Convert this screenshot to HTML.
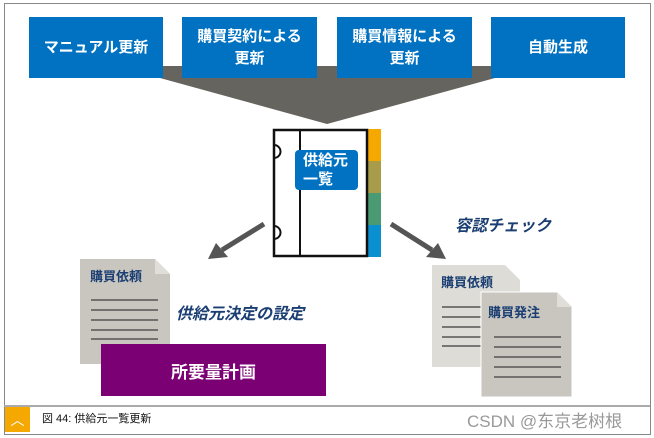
<!DOCTYPE html>
<html><head><meta charset="utf-8"><style>
body{margin:0;width:654px;height:438px;background:#fff;position:relative;overflow:hidden;font-family:"Liberation Sans","Noto Sans CJK JP",sans-serif}
.a{position:absolute}
.box{position:absolute;top:17px;height:61px;background:#0072c1;color:#fff;font-size:15px;display:flex;align-items:center;justify-content:center;text-align:center;line-height:22px;font-weight:bold}
</style></head><body>
<div class="a" style="left:4px;top:3px;width:645px;height:430px;border:1px solid #888"></div>
<svg class="a" style="left:0;top:0" width="654" height="438">
<polygon points="160,66 495,66 495,78 327,124 160,78" fill="#66645e"/>
<rect x="367" y="129" width="14" height="32" fill="#f5a800"/>
<rect x="367" y="161" width="14" height="32" fill="#a89c4a"/>
<rect x="367" y="193" width="14" height="32" fill="#4a9a74"/>
<rect x="367" y="225" width="14" height="32" fill="#0a8fd0"/>
<rect x="274" y="130" width="93" height="126" fill="#fff" stroke="#111" stroke-width="2.5"/>
<line x1="300" y1="130" x2="300" y2="256" stroke="#111" stroke-width="2"/>
<path d="M274,145 a6,6 0 0 1 0,13" fill="none" stroke="#111" stroke-width="2"/>
<path d="M274,226 a6,6 0 0 1 0,13" fill="none" stroke="#111" stroke-width="2"/>
<line x1="264" y1="224" x2="222" y2="250" stroke="#555" stroke-width="5"/>
<polygon points="208,259 216,243 228,257" fill="#555"/>
<line x1="391" y1="224" x2="432" y2="250" stroke="#555" stroke-width="5"/>
<polygon points="446,259 426,257 438,243" fill="#555"/>
<polygon points="80,259 155,259 170,274 170,364 80,364" fill="#c9c6c0"/>
<polygon points="155,259 170,274 155,274" fill="#e0ded9"/>
<g stroke="#555" stroke-width="1.5"><line x1="91" y1="300" x2="158" y2="300"/><line x1="91" y1="310" x2="158" y2="310"/><line x1="91" y1="320" x2="158" y2="320"/><line x1="91" y1="330" x2="158" y2="330"/><line x1="91" y1="339" x2="158" y2="339"/></g>
<polygon points="432,265 505,265 520,280 520,367 432,367" fill="#dedcd6"/>
<g stroke="#555" stroke-width="1.5"><line x1="442" y1="307" x2="481" y2="307"/><line x1="442" y1="317" x2="481" y2="317"/><line x1="442" y1="327" x2="481" y2="327"/><line x1="442" y1="337" x2="481" y2="337"/><line x1="442" y1="346" x2="481" y2="346"/></g>
<polygon points="481,292 557,292 572,307 572,397 481,397" fill="#c9c6c0" stroke="#fff" stroke-width="1"/>
<polygon points="557,292 572,307 557,307" fill="#e0ded9"/>
<g stroke="#555" stroke-width="1.5"><line x1="494" y1="337" x2="561" y2="337"/><line x1="494" y1="347" x2="561" y2="347"/><line x1="494" y1="357" x2="561" y2="357"/><line x1="494" y1="367" x2="561" y2="367"/><line x1="494" y1="377" x2="561" y2="377"/></g>
</svg>
<div class="box" style="left:29px;width:134px">マニュアル更新</div>
<div class="box" style="left:182px;width:135px">購買契約による<br>更新</div>
<div class="box" style="left:337px;width:135px">購買情報による<br>更新</div>
<div class="box" style="left:491px;width:134px">自動生成</div>
<div class="a" style="left:295px;top:150px;width:63px;height:40px;background:#0072c1;border-radius:4px;color:#fff;font-size:15px;line-height:19px;padding:1px 0 0 8px;box-sizing:border-box;font-weight:bold">供給元<br>一覧</div>
<div class="a" style="left:455px;top:212px;color:#1b3f73;font-size:16px;font-weight:bold;font-style:italic">容認チェック</div>
<div class="a" style="left:90px;top:266px;color:#1b3f73;font-size:13px;font-weight:bold">購買依頼</div>
<div class="a" style="left:176px;top:300px;color:#1b3f73;font-size:16px;font-weight:bold;font-style:italic">供給元決定の設定</div>
<div class="a" style="left:101px;top:344px;width:225px;height:52px;background:#7b0073;color:#fff;font-size:17px;display:flex;align-items:center;justify-content:center;font-weight:bold">所要量計画</div>
<div class="a" style="left:441px;top:272px;color:#1b3f73;font-size:13px;font-weight:bold">購買依頼</div>
<div class="a" style="left:488px;top:302px;color:#1b3f73;font-size:13px;font-weight:bold">購買発注</div>
<div class="a" style="left:4px;top:405px;width:646px;height:0;border-top:2px solid #aaa"></div>
<div class="a" style="left:5px;top:407px;width:25px;height:25px;background:#f5a800;color:#fff;font-size:14px;text-align:center;line-height:27px">︿</div>
<div class="a" style="left:42px;top:410px;font-size:11px;color:#111">図 44: 供給元一覧更新</div>
<div class="a" style="left:467px;top:407px;font-size:17px;color:#999">CSDN @东京老树根</div>
</body></html>
